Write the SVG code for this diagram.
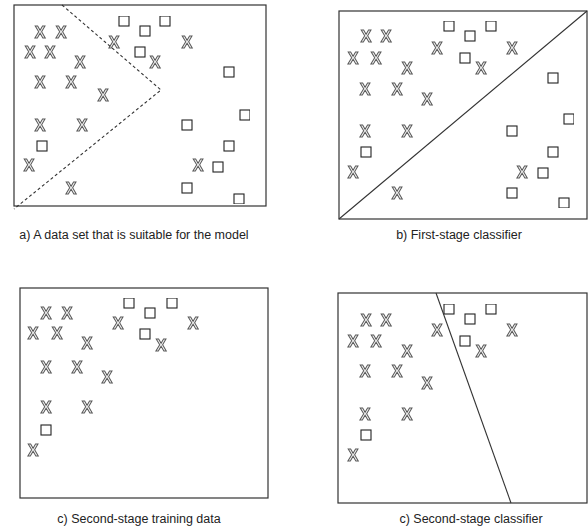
<svg xmlns="http://www.w3.org/2000/svg" width="588" height="529" viewBox="0 0 588 529">
  <defs>
    <!-- pass-through filter: renders the point glyphs in greyscale -->
    <filter id="flat" x="0" y="0" width="1" height="1">
      <feOffset dx="0" dy="0"/>
    </filter>
  </defs>
  <style>
    .frame { fill: #fff; stroke: #333; stroke-width: 1.2; }
    .sq { fill: #fff; stroke: #222; stroke-width: 1.1; }
    .pts { filter: url(#flat); }
    .x { font-family: "Liberation Sans", Arial, sans-serif; font-size: 16px; font-weight: bold; fill: #f2f2f2; stroke: #5a5a5a; stroke-width: 1; text-anchor: middle; dominant-baseline: central; }
    .cap { font-family: "Liberation Sans", Arial, sans-serif; font-size: 12.5px; fill: #222; text-anchor: middle; }
    .bound { fill: none; stroke: #333; stroke-width: 1.1; }
    .dash { stroke-dasharray: 3 2.5; }
  </style>
  <rect width="588" height="529" fill="#fff"/>

  <!-- a) data set suitable for the model -->
  <g id="panel-a">
    <rect class="frame" x="14" y="5" width="252" height="201"/>
    <g id="a-points" class="pts">
      <text class="x" x="40" y="32">X</text>
      <text class="x" x="61" y="32">X</text>
      <text class="x" x="114" y="42">X</text>
      <text class="x" x="187" y="42">X</text>
      <text class="x" x="30" y="52">X</text>
      <text class="x" x="50" y="52">X</text>
      <text class="x" x="80" y="62">X</text>
      <text class="x" x="155" y="62">X</text>
      <text class="x" x="40" y="82">X</text>
      <text class="x" x="71" y="82">X</text>
      <text class="x" x="103" y="95">X</text>
      <text class="x" x="40" y="125">X</text>
      <text class="x" x="82" y="125">X</text>
      <text class="x" x="29" y="165">X</text>
      <text class="x" x="198" y="165">X</text>
      <text class="x" x="71" y="188">X</text>
      <rect class="sq" x="119" y="16" width="10" height="10"/>
      <rect class="sq" x="160" y="16" width="10" height="10"/>
      <rect class="sq" x="140" y="26" width="10" height="10"/>
      <rect class="sq" x="135" y="47" width="10" height="10"/>
      <rect class="sq" x="224" y="67" width="10" height="10"/>
      <rect class="sq" x="240" y="110" width="10" height="10"/>
      <rect class="sq" x="182" y="120" width="10" height="10"/>
      <rect class="sq" x="37" y="141" width="10" height="10"/>
      <rect class="sq" x="224" y="141" width="10" height="10"/>
      <rect class="sq" x="213" y="162" width="10" height="10"/>
      <rect class="sq" x="182" y="183" width="10" height="10"/>
      <rect class="sq" x="234" y="194" width="10" height="10"/>
    </g>
    <text class="cap" x="134" y="239">a) A data set that is suitable for the model</text>
  </g>

  <!-- b) first-stage classifier -->
  <g id="panel-b">
    <rect class="frame" x="339" y="11" width="248" height="208"/>
    <g id="b-points" class="pts">
      <text class="x" x="366" y="36">X</text>
      <text class="x" x="386" y="36">X</text>
      <text class="x" x="437" y="48">X</text>
      <text class="x" x="512" y="48">X</text>
      <text class="x" x="353" y="58">X</text>
      <text class="x" x="376" y="58">X</text>
      <text class="x" x="407" y="68">X</text>
      <text class="x" x="481" y="68">X</text>
      <text class="x" x="365" y="89">X</text>
      <text class="x" x="397" y="89">X</text>
      <text class="x" x="427" y="99">X</text>
      <text class="x" x="365" y="131">X</text>
      <text class="x" x="407" y="131">X</text>
      <text class="x" x="353" y="172">X</text>
      <text class="x" x="522" y="172">X</text>
      <text class="x" x="397" y="193">X</text>
      <rect class="sq" x="444" y="21" width="10" height="10"/>
      <rect class="sq" x="486" y="21" width="10" height="10"/>
      <rect class="sq" x="465" y="31" width="10" height="10"/>
      <rect class="sq" x="460" y="53" width="10" height="10"/>
      <rect class="sq" x="548" y="73" width="10" height="10"/>
      <rect class="sq" x="564" y="114" width="10" height="10"/>
      <rect class="sq" x="507" y="126" width="10" height="10"/>
      <rect class="sq" x="361" y="147" width="10" height="10"/>
      <rect class="sq" x="548" y="147" width="10" height="10"/>
      <rect class="sq" x="538" y="168" width="10" height="10"/>
      <rect class="sq" x="507" y="188" width="10" height="10"/>
      <rect class="sq" x="559" y="198" width="10" height="10"/>
    </g>
    <text class="cap" x="459" y="239">b) First-stage classifier</text>
  </g>

  <!-- c) second-stage training data -->
  <g id="panel-c">
    <rect class="frame" x="20" y="288" width="248" height="210"/>
    <g id="c-points" class="pts">
      <text class="x" x="46" y="313">X</text>
      <text class="x" x="67" y="313">X</text>
      <text class="x" x="118" y="323">X</text>
      <text class="x" x="193" y="323">X</text>
      <text class="x" x="33" y="333">X</text>
      <text class="x" x="57" y="333">X</text>
      <text class="x" x="87" y="343">X</text>
      <text class="x" x="161" y="345">X</text>
      <text class="x" x="46" y="367">X</text>
      <text class="x" x="77" y="367">X</text>
      <text class="x" x="107" y="377">X</text>
      <text class="x" x="46" y="407">X</text>
      <text class="x" x="87" y="407">X</text>
      <text class="x" x="33" y="450">X</text>
      <rect class="sq" x="124" y="298" width="10" height="10"/>
      <rect class="sq" x="167" y="298" width="10" height="10"/>
      <rect class="sq" x="145" y="308" width="10" height="10"/>
      <rect class="sq" x="140" y="329" width="10" height="10"/>
      <rect class="sq" x="41" y="425" width="10" height="10"/>
    </g>
    <text class="cap" x="139" y="523">c) Second-stage training data</text>
  </g>

  <!-- d) second-stage classifier -->
  <g id="panel-d">
    <rect class="frame" x="338" y="293" width="249" height="210"/>
    <g id="d-points" class="pts">
      <text class="x" x="366" y="320">X</text>
      <text class="x" x="386" y="320">X</text>
      <text class="x" x="437" y="330">X</text>
      <text class="x" x="512" y="330">X</text>
      <text class="x" x="353" y="341">X</text>
      <text class="x" x="376" y="341">X</text>
      <text class="x" x="407" y="351">X</text>
      <text class="x" x="481" y="351">X</text>
      <text class="x" x="365" y="371">X</text>
      <text class="x" x="397" y="371">X</text>
      <text class="x" x="427" y="383">X</text>
      <text class="x" x="365" y="414">X</text>
      <text class="x" x="407" y="414">X</text>
      <text class="x" x="353" y="455">X</text>
      <rect class="sq" x="444" y="304" width="10" height="10"/>
      <rect class="sq" x="486" y="304" width="10" height="10"/>
      <rect class="sq" x="465" y="314" width="10" height="10"/>
      <rect class="sq" x="460" y="336" width="10" height="10"/>
      <rect class="sq" x="361" y="430" width="10" height="10"/>
    </g>
    <text class="cap" x="471" y="523">c) Second-stage classifier</text>
  </g>

  <!-- decision boundaries -->
  <g id="boundaries">
    <polyline class="bound dash" points="62,5 161,90 14,209"/>
    <line class="bound" x1="339" y1="219" x2="587" y2="11"/>
    <line class="bound" x1="436" y1="293" x2="511" y2="503"/>
  </g>
</svg>
